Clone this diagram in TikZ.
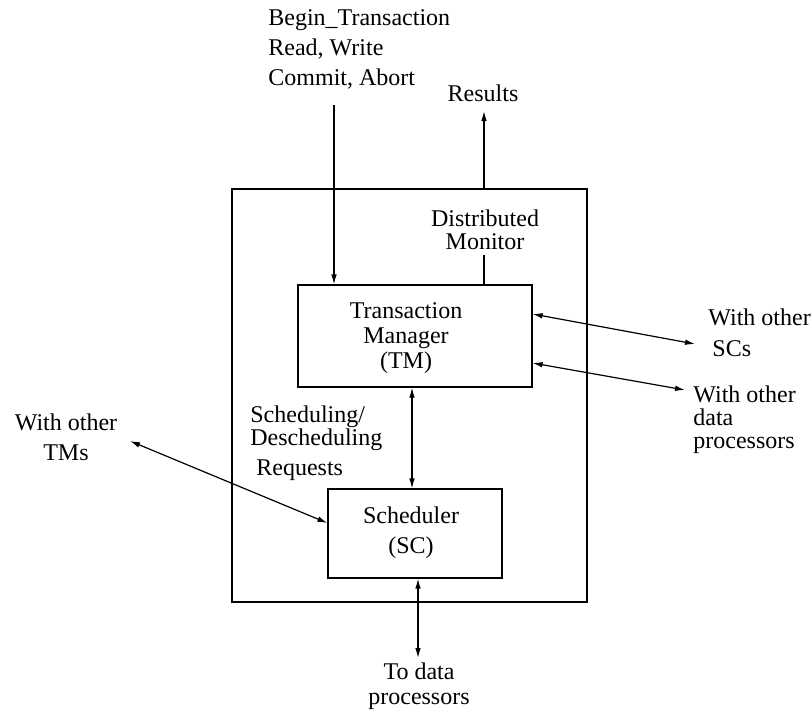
\documentclass[tikz,border=0pt]{standalone}
\usepackage{fontspec}
\setmainfont{Liberation Serif}
\usetikzlibrary{arrows.meta}
\begin{document}
\begin{tikzpicture}[x=0.5pt,y=-0.5pt,
  box/.style={draw, line width=0.6pt, inner sep=0pt},
  lbl/.style={inner sep=0pt, align=center, font=\fontsize{12}{15}\selectfont},
  lblt/.style={inner sep=0pt, align=center, font=\fontsize{12}{11.5}\selectfont},
  lblm/.style={inner sep=0pt, align=center, font=\fontsize{12}{12.5}\selectfont},
  conn/.style={line width=0.6pt},
  arr/.style={conn, -{Latex[length=5pt,width=2.8pt]}},
  darr/.style={conn, {Latex[length=5pt,width=2.8pt]}-{Latex[length=5pt,width=2.8pt]}}]
\useasboundingbox (0,0) rectangle (812,714);
% boxes
\node[box, minimum width=177.5pt, minimum height=206.5pt] (outer) at (409.5,395.5) {};
\node[box, minimum width=117pt, minimum height=51pt] (tm) at (415,336) {};
\node[box, minimum width=87pt, minimum height=44.5pt] (sc) at (415,533.5) {};
% texts
\node[lbl, align=left, anchor=west] (ops) at (268,49) {Begin\_Transaction\\Read, Write\\Commit, Abort};
\node[lbl] (resl) at (483,93) {Results};
\node[lblt] (dm) at (485,230) {Distributed\\Monitor};
\node[lblm] (tmt) at (406,338) {Transaction\\Manager\\(TM)};
\node[lbl] (sct) at (411,533) {Scheduler\\(SC)};
\node[lblt, align=left, anchor=west] (sr) at (250,428.5) {Scheduling/\\Descheduling};
\node[lbl, anchor=west] (sr3) at (256,470) {Requests};
\node[lblm] (tdpt) at (419,686) {To data\\processors};
\node[lbl] (wt) at (66,437) {With other\\TMs};
\node[lbl, align=left, anchor=west] (ws1) at (708,317) {With other};
\node[lbl, anchor=west] (ws2) at (712,349) {SCs};
\node[lblt, align=left, anchor=west] (wd) at (693,420) {With other\\data\\processors};
% free ends
\coordinate (inA) at (334,105);
\coordinate (res) at (484,111);
\coordinate (mon) at (484,255);
\coordinate (scs) at (695,344);
\coordinate (dps) at (685,390);
\coordinate (tms) at (130,441);
\coordinate (tdp) at (418,658);
% connectors
\draw[arr] (inA) -- (inA |- tm.north);
\draw[arr] (res |- outer.north) -- (res);
\draw[conn] (mon |- tm.north) -- (mon);
\draw[darr] ([yshift=11pt]tm.east) -- (scs);
\draw[darr] ([yshift=-13.5pt]tm.east) -- (dps);
\draw[darr] ([xshift=-1.5pt]tm.south) -- ([xshift=-1.5pt]sc.north);
\draw[darr] (tms) -- ([yshift=5.25pt]sc.west);
\draw[darr] (tdp |- sc.south) -- (tdp);
\end{tikzpicture}
\end{document}
